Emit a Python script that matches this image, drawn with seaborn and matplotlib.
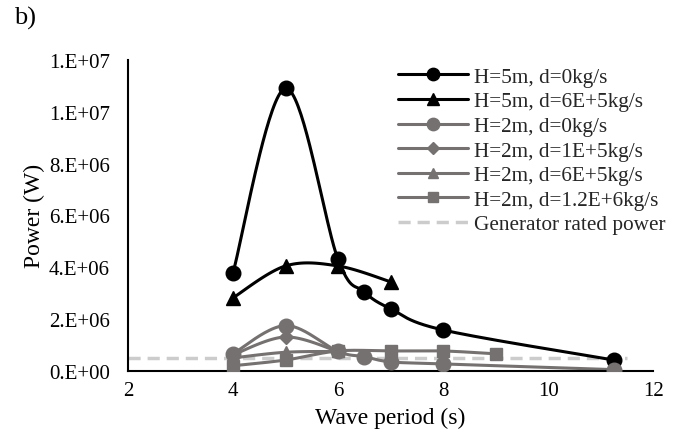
import numpy as np
import pandas as pd
import matplotlib
matplotlib.use("Agg")
import matplotlib.pyplot as plt
from matplotlib.lines import Line2D
from matplotlib.ticker import FuncFormatter, MultipleLocator
import seaborn as sns

# Wave period (s) and power (W) for each case
t_h5_d0 = [4, 5, 6, 6.5, 7, 8, 11.25]
p_h5_d0 = [3.78e6, 1.09e7, 4.3e6, 3.05e6, 2.4e6, 1.58e6, 0.42e6]

t_h5_d6e5 = [4, 5, 6, 7]
p_h5_d6e5 = [2.82e6, 4.05e6, 4.05e6, 3.44e6]

t_h2_d0 = [4, 5, 6, 6.5, 7, 8, 11.25]
p_h2_d0 = [0.66e6, 1.75e6, 0.75e6, 0.55e6, 0.35e6, 0.27e6, 0.05e6]

t_h2_d1e5 = [4, 5, 6]
p_h2_d1e5 = [0.62e6, 1.31e6, 0.75e6]

t_h2_d6e5 = [4, 5, 6]
p_h2_d6e5 = [0.5e6, 0.72e6, 0.75e6]

t_h2_d12e6 = [4, 5, 6, 7, 8, 9]
p_h2_d12e6 = [0.2e6, 0.42e6, 0.77e6, 0.77e6, 0.77e6, 0.66e6]

t_rated = [2, 11.5]
p_rated = [0.5e6, 0.5e6]

labels = ["H=5m, d=0kg/s", "H=5m, d=6E+5kg/s", "H=2m, d=0kg/s",
          "H=2m, d=1E+5kg/s", "H=2m, d=6E+5kg/s", "H=2m, d=1.2E+6kg/s",
          "Generator rated power"]

BLACK = "#000000"
GREY = "#767171"
LIGHT = "#cccccc"


def smooth(x, y, n=40):
    # Excel-like smoothed line: Catmull-Rom through the points as cubic Beziers
    x = np.asarray(x, float)
    y = np.asarray(y, float)
    px = np.concatenate([[x[0]], x, [x[-1]]])
    py = np.concatenate([[y[0]], y, [y[-1]]])
    xs, ys = [], []
    s = np.linspace(0, 1, n)
    for i in range(1, len(px) - 2):
        p0 = np.array([px[i - 1], py[i - 1]])
        p1 = np.array([px[i], py[i]])
        p2 = np.array([px[i + 1], py[i + 1]])
        p3 = np.array([px[i + 2], py[i + 2]])
        c1 = p1 + (p2 - p0) / 6
        c2 = p2 - (p3 - p1) / 6
        b = (((1 - s) ** 3)[:, None] * p1 + (3 * (1 - s) ** 2 * s)[:, None] * c1
             + (3 * (1 - s) * s ** 2)[:, None] * c2 + (s ** 3)[:, None] * p2)
        xs.extend(b[:, 0])
        ys.extend(b[:, 1])
    return np.array(xs), np.array(ys)


sns.set_theme(style="white")
plt.rcParams["font.family"] = ["Liberation Serif", "DejaVu Serif"]

fig = plt.figure(figsize=(6.84, 4.35), dpi=100)
ax = fig.add_axes([0.187, 0.145, 0.768, 0.715])

series = [
    (t_h5_d0, p_h5_d0, BLACK, "o", 10.5),
    (t_h5_d6e5, p_h5_d6e5, BLACK, "^", 10),
    (t_h2_d0, p_h2_d0, GREY, "o", 10.5),
    (t_h2_d1e5, p_h2_d1e5, GREY, "D", 7),
    (t_h2_d6e5, p_h2_d6e5, GREY, "^", 9),
    (t_h2_d12e6, p_h2_d12e6, GREY, "s", 9),
]

handles = []
for (t, p, col, mk, ms), lab in zip(series, labels):
    sx, sy = smooth(t, p)
    sns.lineplot(x=sx, y=sy, ax=ax, color=col, lw=2.2, sort=False,
                 estimator=None, zorder=2)
    ax.plot(t, p, ls="none", marker=mk, ms=ms, color=col, mec=col, zorder=3)
    handles.append(Line2D([], [], color=col, lw=2.2, marker=mk, ms=ms * 0.85,
                          mec=col, label=lab))

sns.lineplot(x=t_rated, y=p_rated, ax=ax, color=LIGHT, lw=2.5,
             dashes=False, zorder=1).lines[-1].set_dashes([3.5, 2])
handles.append(Line2D([], [], color=LIGHT, lw=2.5, ls=(0, (3.5, 2)),
                      label=labels[-1]))

ax.set_xlim(2, 12)
ax.set_ylim(0, 1.2e7)
ax.xaxis.set_major_locator(MultipleLocator(2))
ax.yaxis.set_major_locator(MultipleLocator(2e6))
ax.yaxis.set_major_formatter(
    FuncFormatter(lambda v, pos: f"{v:.0E}".replace("E", ".E")))
ax.tick_params(axis="y", length=0, labelsize=15, colors="black", pad=13)
ax.tick_params(axis="x", length=0, labelsize=15, colors="black", pad=7)

for side in ["top", "right"]:
    ax.spines[side].set_visible(False)
for side in ["left", "bottom"]:
    ax.spines[side].set_color("black")
    ax.spines[side].set_linewidth(1.5)

ax.set_xlabel("Wave period (s)", fontsize=17, color="black", labelpad=5)
ax.set_ylabel("Power (W)", fontsize=17, color="black", labelpad=3)

leg = ax.legend(handles=handles, loc="upper left", bbox_to_anchor=(0.514, 0.977),
                frameon=False, fontsize=15.3, handlelength=3.3,
                labelspacing=0.22, handletextpad=0.3, borderaxespad=0,
                borderpad=0)

fig.text(0.02, 0.985, "b)", fontsize=19, color="black", va="top")

fig.savefig("out.png", dpi=100)
